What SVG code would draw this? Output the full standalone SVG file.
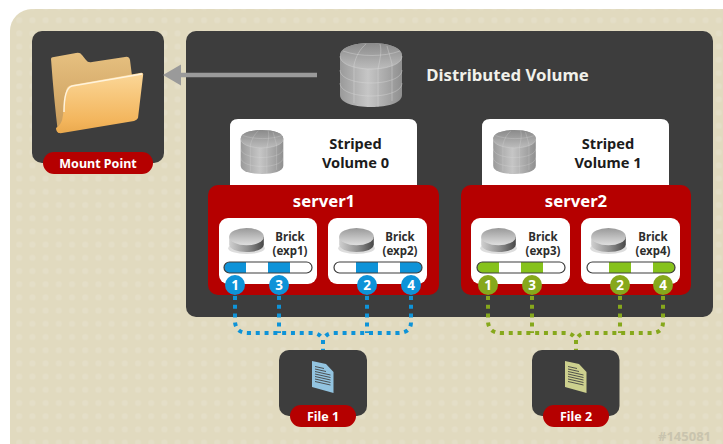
<svg xmlns="http://www.w3.org/2000/svg" width="723" height="444" viewBox="0 0 723 444">
<style>
text{font-family:"Noto Sans","Open Sans","Liberation Sans",sans-serif;font-weight:700;text-anchor:middle}
.dk{fill:#3d3d3d}.red{fill:#b50000}.wh{fill:#fff}
.pill{fill:#fff;font-size:12.5px}
.brick{fill:#2e2e2e;font-size:11.5px}
.vol{fill:#1c1c1c;font-size:14.6px}
.srv{fill:#fff;font-size:16.7px}
.num{fill:#fff;font-size:13.5px}
.bl{stroke:#0e93d8}.gr{stroke:#86a81c}
.dot{fill:none;stroke-width:4;stroke-dasharray:4 4.800}
.barline{fill:none;stroke:#3d3d3d;stroke-width:1.2}
.grid{fill:none;stroke:#dcdcdc;stroke-width:.7;stroke-opacity:.55}
</style>
<defs>
<pattern id="dots" width="13.2" height="13.2" patternUnits="userSpaceOnUse"><circle cx="6" cy="7" r="3" fill="#e4dec7"/></pattern>
<linearGradient id="cyl" x1="0" x2="1" y1="0" y2="0"><stop offset="0" stop-color="#9a9a9a"/><stop offset=".45" stop-color="#c6c6c6"/><stop offset="1" stop-color="#8f8f8f"/></linearGradient>
<linearGradient id="cylTop" x1="0" x2="0" y1="0" y2="1"><stop offset="0" stop-color="#8a8a8a"/><stop offset="1" stop-color="#bcbcbc"/></linearGradient>
<linearGradient id="disk" x1="0" x2="1" y1="0" y2="0"><stop offset="0" stop-color="#d0d0d0"/><stop offset=".55" stop-color="#8e8e8e"/><stop offset="1" stop-color="#474747"/></linearGradient>
<linearGradient id="diskTop" x1="0" x2="0" y1="0" y2="1"><stop offset="0" stop-color="#999"/><stop offset="1" stop-color="#e0e0e0"/></linearGradient>
<linearGradient id="fb" x1="0" x2="0" y1="0" y2="1"><stop offset="0" stop-color="#e6c080"/><stop offset="1" stop-color="#c89a58"/></linearGradient>
<linearGradient id="ff" x1="0" x2="0" y1="0" y2="1"><stop offset="0" stop-color="#fbd798"/><stop offset=".8" stop-color="#f3b55c"/><stop offset="1" stop-color="#eaa94e"/></linearGradient>
<symbol id="cylinder" viewBox="0 0 62 64" overflow="visible">
<path d="M0 13C0 4 14 0 31 0S62 4 62 13V52C62 60 48 64 31 64S0 60 0 52Z" fill="url(#cyl)"/>
<path d="M0 13C0 4 14 0 31 0S62 4 62 13C62 21 48 26 31 26S0 21 0 13Z" fill="url(#cylTop)"/>
<path class="grid" d="M0 13C0 21 14 26 31 26S62 21 62 13M0 27C0 35 14 40 31 40S62 35 62 27M0 40C0 48 14 53 31 53S62 48 62 40M14 22V60M38 26V64M52 21V58M14 22C16 13 20 6 26 1M38 26C40 16 42 8 40 1M52 21C50 13 48 7 47 3M3 8C20 14 44 14 60 8"/>
</symbol>
<symbol id="cdisk" viewBox="0 0 36 26" overflow="visible">
<ellipse cx="18" cy="21" rx="19" ry="6" fill="#bbb" opacity=".5"/>
<path d="M0 9V17C0 22 8 25 18 25S36 22 36 17V9Z" fill="url(#disk)"/>
<ellipse cx="18" cy="9" rx="18" ry="9" fill="url(#diskTop)"/>
</symbol>
<symbol id="doc" viewBox="0 0 22 32" overflow="visible">
<path d="M0 0L14 3L21.500 11V32L0 26Z" fill="currentColor"/>
<path d="M3 5.500L12 7.500M3 8L14 10.500M3 10.500L18.500 14M3 13L18.500 16.500M3 15.500L18.500 19M3 18L18.500 21.500M3 20.500L18.500 24" stroke="#444" stroke-width=".9" fill="none"/>
</symbol>
</defs>
<rect width="723" height="444" fill="#fff"/>
<rect x="10" y="9" width="740" height="460" rx="22" fill="#e1dabf"/>
<rect x="10" y="9" width="740" height="460" rx="22" fill="url(#dots)"/>
<text x="684.500" y="441" style="font-size:13px;fill:#c9c4ae">#145081</text>

<g id="mount-point">
<rect class="dk" x="32" y="31" width="132" height="132" rx="10"/>
<path d="M51 59Q51 57 54 57L76 53Q80 52 82 55L86 60Q88 63 92 62L125 57Q129 56 130 60L132 76L65 130L58 133Q54 100 51 59Z" fill="url(#fb)"/>
<path d="M66 92Q66 86 72 85L140 73Q144 72 143 76L138 118Q137 120 134 121L62 133Q56 134 56 128Q62 125 63 115Z" fill="url(#ff)"/>
<path d="M64 112Q64 88 72 86L142 74" fill="none" stroke="#fff3dc" stroke-width="1.500"/>
<rect class="red" x="43" y="152" width="110" height="22" rx="11"/>
<text class="pill" x="98" y="168">Mount Point</text>
</g>

<g id="distributed-volume">
<rect class="dk" x="186" y="31" width="527" height="286" rx="10"/>
<use href="#cylinder" x="340" y="43" width="62" height="64"/>
<text x="507.500" y="81" style="font-size:16.8px;fill:#f1f1ea">Distributed Volume</text>
</g>

<g id="striped-volume-0">
<path class="wh" d="M230 190V127Q230 119 238 119H409Q417 119 417 127V190Z"/>
<use href="#cylinder" x="240.500" y="130" width="43" height="44"/>
<text class="vol" x="355.500" y="149">Striped</text>
<text class="vol" x="355.500" y="168">Volume 0</text>
</g>
<g id="striped-volume-1">
<path class="wh" d="M482 190V127Q482 119 490 119H661Q669 119 669 127V190Z"/>
<use href="#cylinder" x="493" y="130" width="43" height="44"/>
<text class="vol" x="608" y="149">Striped</text>
<text class="vol" x="608" y="168">Volume 1</text>
</g>

<g id="server1">
<rect class="red" x="208" y="185" width="231" height="110" rx="10"/>
<text class="srv" x="324" y="207">server1</text>
</g>
<g id="server2">
<rect class="red" x="461" y="185" width="230" height="110" rx="10"/>
<text class="srv" x="576" y="207">server2</text>
</g>

<g id="brick-exp1">
<rect class="wh" x="219" y="218" width="98" height="66" rx="9"/>
<use href="#cdisk" x="229" y="228" width="35" height="25"/>
<text class="brick" x="290" y="241">Brick</text><text class="brick" x="290" y="255">(exp1)</text>
<rect x="224" y="262" width="88" height="11" rx="5.500" fill="#fff"/>
<path d="M246 262H229.500A5.500 5.500 0 0 0 229.500 273H246ZM268 262H290V273H268Z" fill="#0e93d8"/>
<rect class="barline" x="224" y="262" width="88" height="11" rx="5.500"/>
</g>
<g id="brick-exp2">
<rect class="wh" x="328" y="218" width="99" height="66" rx="9"/>
<use href="#cdisk" x="339" y="228" width="35" height="25"/>
<text class="brick" x="400" y="241">Brick</text><text class="brick" x="400" y="255">(exp2)</text>
<rect x="334" y="262" width="88" height="11" rx="5.500" fill="#fff"/>
<path d="M356 262H378V273H356ZM400 262H416.500A5.500 5.500 0 0 1 416.500 273H400Z" fill="#0e93d8"/>
<rect class="barline" x="334" y="262" width="88" height="11" rx="5.500"/>
</g>
<g id="brick-exp3">
<rect class="wh" x="471" y="218" width="99" height="66" rx="9"/>
<use href="#cdisk" x="481" y="228" width="35" height="25"/>
<text class="brick" x="543" y="241">Brick</text><text class="brick" x="543" y="255">(exp3)</text>
<rect x="477" y="262" width="88" height="11" rx="5.500" fill="#fff"/>
<path d="M499 262H482.500A5.500 5.500 0 0 0 482.500 273H499ZM521 262H543V273H521Z" fill="#86c21c"/>
<rect class="barline" x="477" y="262" width="88" height="11" rx="5.500"/>
</g>
<g id="brick-exp4">
<rect class="wh" x="581" y="218" width="99" height="66" rx="9"/>
<use href="#cdisk" x="591" y="228" width="35" height="25"/>
<text class="brick" x="653" y="241">Brick</text><text class="brick" x="653" y="255">(exp4)</text>
<rect x="587" y="262" width="88" height="11" rx="5.500" fill="#fff"/>
<path d="M609 262H631V273H609ZM653 262H669.500A5.500 5.500 0 0 1 669.500 273H653Z" fill="#86c21c"/>
<rect class="barline" x="587" y="262" width="88" height="11" rx="5.500"/>
</g>

<g id="connectors">
<path class="dot bl" d="M235 296V322Q236 333 248 333H312Q320 333 323 340M279 296V333M367 296V333M411 296V322Q411 333 398 333H334Q326 333 323 340M323 340V350"/>
<path class="dot gr" d="M488 296V322Q489 333 501 333H565Q573 333 576 340M532 296V333M620 296V333M663 296V322Q663 333 651 333H587Q579 333 576 340M576 340V350"/>
<path d="M317 75H181" stroke="#9a9a9a" stroke-width="4.500" fill="none"/>
<path d="M163 75L181 64.500V85.500Z" fill="#9a9a9a"/>
</g>

<g id="stripes-blue" fill="#0e93d8">
<circle cx="235" cy="285" r="10"/><text class="num" x="235" y="290">1</text>
<circle cx="279" cy="285" r="10"/><text class="num" x="279" y="290">3</text>
<circle cx="367" cy="285" r="10"/><text class="num" x="367" y="290">2</text>
<circle cx="411" cy="285" r="10"/><text class="num" x="411" y="290">4</text>
</g>
<g id="stripes-green" fill="#86a81c">
<circle cx="488" cy="285" r="10"/><text class="num" x="488" y="290">1</text>
<circle cx="532" cy="285" r="10"/><text class="num" x="532" y="290">3</text>
<circle cx="620" cy="285" r="10"/><text class="num" x="620" y="290">2</text>
<circle cx="663" cy="285" r="10"/><text class="num" x="663" y="290">4</text>
</g>

<g id="file-1">
<rect class="dk" x="279" y="350" width="88" height="66" rx="10"/>
<use href="#doc" x="312" y="361" width="22" height="32" color="#93c4e0"/>
<rect class="red" x="290" y="405" width="66" height="22" rx="11"/>
<text class="pill" x="323" y="421">File 1</text>
</g>
<g id="file-2">
<rect class="dk" x="532" y="350" width="87.500" height="66" rx="10"/>
<use href="#doc" x="565" y="361" width="22" height="32" color="#cdd08e"/>
<rect class="red" x="543" y="405" width="66" height="22" rx="11"/>
<text class="pill" x="576" y="421">File 2</text>
</g>
</svg>
